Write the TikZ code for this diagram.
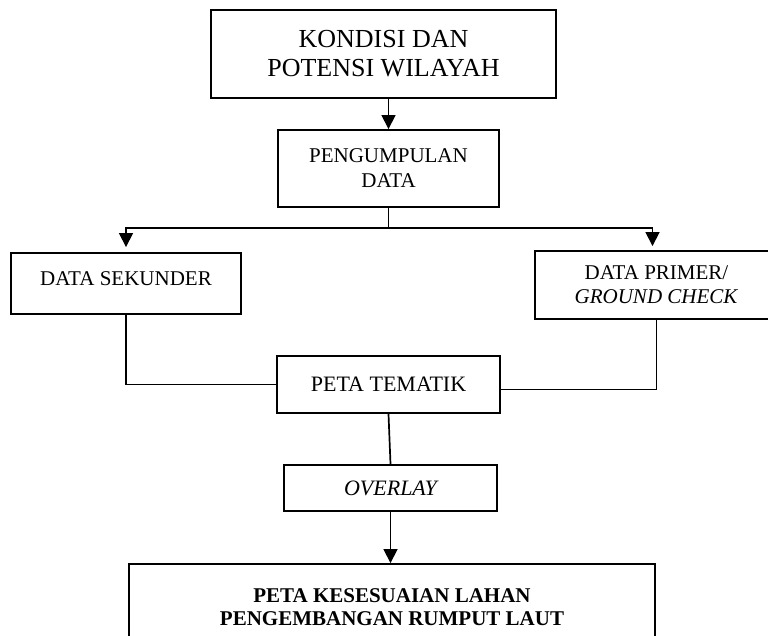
\documentclass[tikz,border=0pt]{standalone}
\usepackage{fontspec}
\setmainfont{Liberation Serif}
\usetikzlibrary{arrows.meta}
\begin{document}
\begin{tikzpicture}[>={Triangle[length=14pt,width=14pt]},x=1pt,y=-1pt,line width=1.7pt,
	kotak/.style={draw,line width=1.9pt,align=center,inner sep=0pt}]
	\clip (0,0) rectangle (768,636);
	\fill[white] (0,0) rectangle (768,636);
	% kotak-kotak alur
	\node[kotak,minimum width=345pt,minimum height=88pt,font=\fontsize{26}{29}\selectfont] (kondisi) at (383.5,54) {KONDISI DAN\\POTENSI WILAYAH};
	\node[kotak,minimum width=221pt,minimum height=77pt,font=\fontsize{21}{25}\selectfont] (kumpul) at (388.5,168.5) {PENGUMPULAN\\DATA};
	\node[kotak,minimum width=230pt,minimum height=61pt,text height=14pt,text depth=11pt,font=\fontsize{21}{25}\selectfont] (sekunder) at (126,283.5) {DATA SEKUNDER};
	\node[kotak,minimum width=243pt,minimum height=68pt,font=\fontsize{21}{24}\selectfont] (primer) at (656.5,285) {DATA PRIMER/\\\textit{GROUND CHECK}};
	\node[kotak,minimum width=223pt,minimum height=57pt,font=\fontsize{22}{25}\selectfont] (tematik) at (388.5,384.5) {PETA TEMATIK};
	\node[kotak,minimum width=213pt,minimum height=46pt,font=\fontsize{22}{25}\itshape] (overlay) at (390.5,488) {OVERLAY};
	\node[kotak,minimum width=526pt,minimum height=86pt,font=\fontsize{21}{23}\bfseries] (hasil) at (392,607) {PETA KESESUAIAN LAHAN\\PENGEMBANGAN RUMPUT LAUT};
	% penghubung
	\draw[->] (kumpul.north |- kondisi.south) -- (kumpul.north);
	\draw (kumpul.south) -- ++(0,20) coordinate (cabang);
	\draw[->] (cabang) -| ([yshift=5pt]sekunder.north);
	\draw[->] (cabang) -| ([xshift=-4pt,yshift=4pt]primer.north);
	\draw (sekunder.south) |- (tematik.west);
	\draw (primer.south) |- ([yshift=-5pt]tematik.east);
	\draw (tematik.south) -- (overlay.north);
	\draw[->] (overlay.south) -- (overlay.south |- hasil.north);
\end{tikzpicture}
\end{document}
